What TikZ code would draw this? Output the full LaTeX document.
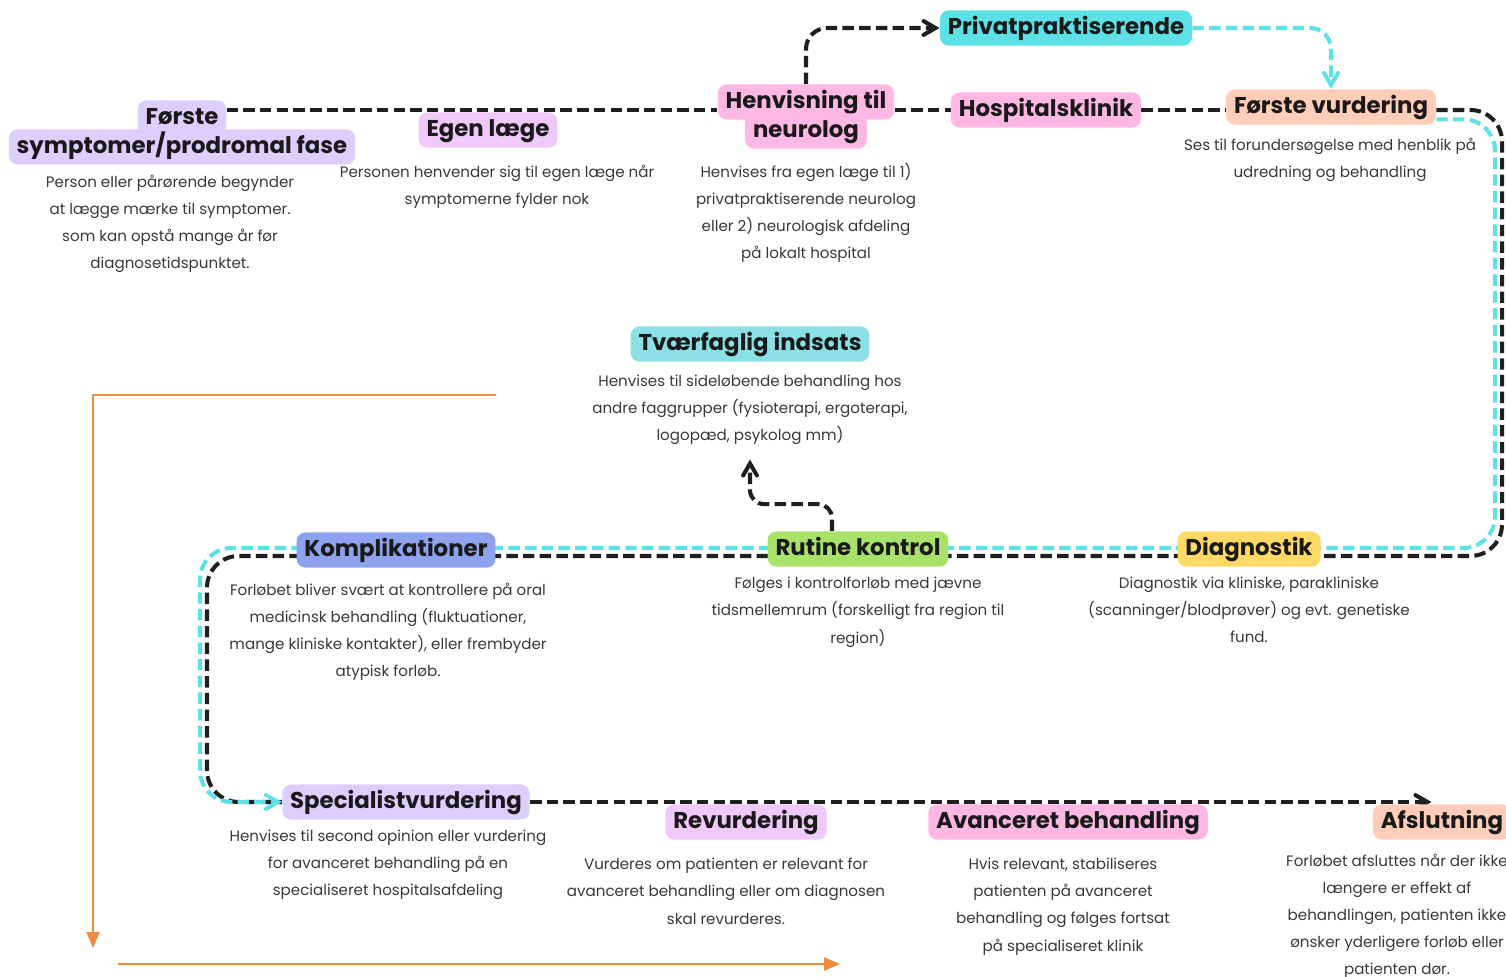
\documentclass[tikz,border=0pt]{standalone}
\usepackage{fontspec}
\setmainfont{Poppins}
\usetikzlibrary{arrows,positioning,backgrounds}

\definecolor{lav}{HTML}{DCCFFF}
\definecolor{lilac}{HTML}{F0C8FA}
\definecolor{pinkbox}{HTML}{FFB8E4}
\definecolor{aqua}{HTML}{5CE1E6}
\definecolor{aqualt}{HTML}{8BE0E6}
\definecolor{peach}{HTML}{FFCDB8}
\definecolor{periw}{HTML}{8EA3EE}
\definecolor{lime}{HTML}{A8E26A}
\definecolor{sun}{HTML}{FFD966}
\definecolor{cyanline}{HTML}{5CE1E6}
\definecolor{orangeline}{HTML}{F08A3C}

\begin{document}
\begin{tikzpicture}[x=0.02cm,y=-0.02cm,>=angle 60,
    head/.style={rounded corners=5pt,inner xsep=4.5pt,inner ysep=3.5pt,
                 text height=10pt,text depth=3pt,text=black!90,
                 font=\fontsize{13}{16}\selectfont\bfseries},
    desc/.style={anchor=north,align=center,inner sep=0pt,text=black!78,
                 font=\fontsize{8.6}{15.4}\selectfont},
    blk/.style={draw=black!88,line width=2.3pt,dash pattern=on 6.5pt off 3pt},
    cyn/.style={draw=cyanline,line width=2.3pt,dash pattern=on 6.5pt off 3pt},
    axis/.style={draw=orangeline,line width=1.1pt,-triangle 45}]

  \clip (0,0) rectangle (1506,976);

  % steps
  \node[head,fill=lav]     (forste1) at (182,118)  {Første};
  \node[head,fill=lav]     (forste2) at (182,147)  {symptomer/prodromal fase};
  \node[head,fill=lilac]   (egen)    at (488,130)  {Egen læge};
  \node[head,fill=pinkbox] (henvis1) at (806,102)  {Henvisning til};
  \node[head,fill=pinkbox] (henvis2) at (806,131)  {neurolog};
  \node[head,fill=pinkbox] (hosp)    at (1046,110) {Hospitalsklinik};
  \node[head,fill=aqua]    (priv)    at (1066,28)  {Privatpraktiserende};
  \node[head,fill=peach]   (vurd)    at (1331,107) {Første vurdering};
  \node[head,fill=aqualt]  (tvaer)   at (750,344)  {Tværfaglig indsats};
  \node[head,fill=periw]   (kompl)   at (396,550)  {Komplikationer};
  \node[head,fill=lime]    (rutine)  at (858,549)  {Rutine kontrol};
  \node[head,fill=sun]     (diag)    at (1249,549) {Diagnostik};
  \node[head,fill=lav]     (spec)    at (406,802)  {Specialistvurdering};
  \node[head,fill=lilac]   (revurd)  at (746,822)  {Revurdering};
  \node[head,fill=pinkbox] (avanc)   at (1068,822) {Avanceret behandling};
  \node[head,fill=peach]   (afsl)    at (1442,822) {Afslutning};

  % texts
  \node[desc] (d_forste) at (170,175)  {Person eller pårørende begynder\\at lægge mærke til symptomer.\\som kan opstå mange år før\\diagnosetidspunktet.};
  \node[desc] (d_egen)   at (497,165)  {Personen henvender sig til egen læge når\\symptomerne fylder nok};
  \node[desc] (d_henvis) at (806,163)  {Henvises fra egen læge til 1)\\privatpraktiserende neurolog\\eller 2) neurologisk afdeling\\på lokalt hospital};
  \node[desc] (d_vurd)   at (1330,138) {Ses til forundersøgelse med henblik på\\udredning og behandling};
  \node[desc] (d_tvaer)  at (750,375)  {Henvises til sideløbende behandling hos\\andre faggrupper (fysioterapi, ergoterapi,\\logopæd, psykolog mm)};
  \node[desc] (d_kompl)  at (388,583)  {Forløbet bliver svært at kontrollere på oral\\medicinsk behandling (fluktuationer,\\mange kliniske kontakter), eller frembyder\\atypisk forløb.};
  \node[desc] (d_rutine) at (858,577)  {Følges i kontrolforløb med jævne\\tidsmellemrum (forskelligt fra region til\\region)};
  \node[desc] (d_diag)   at (1249,577) {Diagnostik via kliniske, parakliniske\\(scanninger/blodprøver) og evt. genetiske\\fund.};
  \node[desc] (d_spec)   at (388,830)  {Henvises til second opinion eller vurdering\\for avanceret behandling på en\\specialiseret hospitalsafdeling};
  \node[desc] (d_revurd) at (726,858)  {Vurderes om patienten er relevant for\\avanceret behandling eller om diagnosen\\skal revurderes.};
  \node[desc] (d_avanc)  at (1063,858) {Hvis relevant, stabiliseres\\patienten på avanceret\\behandling og følges fortsat\\på specialiseret klinik};
  \node[desc] (d_afsl)   at (1397,854) {Forløbet afsluttes når der ikke\\længere er effekt af\\behandlingen, patienten ikke\\ønsker yderligere forløb eller\\patienten dør.};

  % axes
  \coordinate (axtop)   at (496,395);
  \coordinate (axdown)  at (93,948);
  \coordinate (axleft)  at (118,964);
  \coordinate (axright) at (840,964);

  \begin{scope}[on background layer]
    \draw[blk] (forste1.east |- hosp.west) -- (henvis1.west |- hosp.west);
    \draw[blk] (henvis1.east |- hosp.west) -- (hosp.west);
    \draw[blk] (hosp.east) -- (vurd.west |- hosp.east);
    \draw[blk,->,rounded corners=12pt] (henvis1.north) |- (priv.west);
    \draw[cyn,->,rounded corners=12pt] (priv.east) -| (vurd.north);
    % long loop
    \draw[blk,rounded corners=18pt] (vurd.east |- hosp.east) -| (1502,556)
        -- (207,556) |- (spec.west);
    \draw[cyn,->,rounded corners=18pt] ([yshift=-7pt]vurd.east) -| (1495,548)
        -- (200,548) |- (spec.west);
    \draw[blk,->,rounded corners=8pt] ([xshift=-14.8pt]rutine.north)
        -- ++(0,-27) -| ([yshift=-8pt]d_tvaer.south);
    \draw[blk,->] (spec.east) -- ([xshift=-6pt]afsl.north |- spec.east);
  \end{scope}

  \draw[axis] (axtop) -| (axdown);
  \draw[axis] (axleft) -- (axright);
\end{tikzpicture}
\end{document}
